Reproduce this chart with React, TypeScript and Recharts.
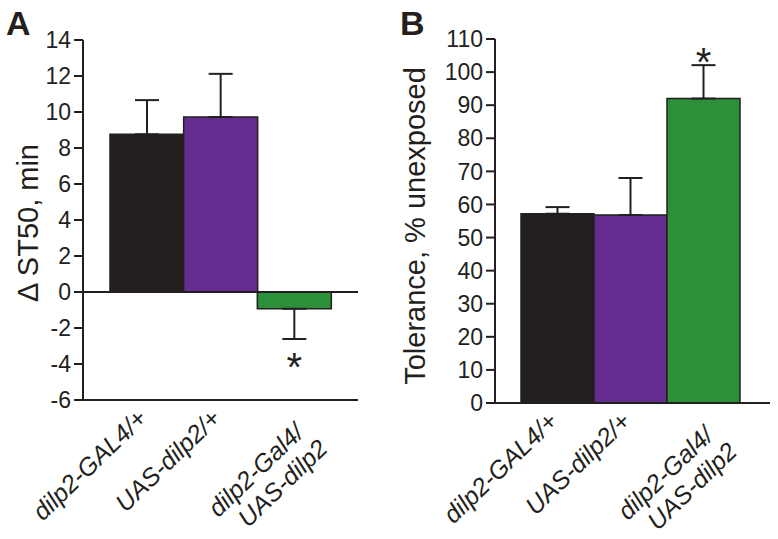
import React from 'react';
import { BarChart, Bar, Cell, XAxis, YAxis, ErrorBar, ReferenceLine, ReferenceDot } from 'recharts';

const genotypes = ['dilp2-GAL4/+', 'UAS-dilp2/+', 'dilp2-Gal4/UAS-dilp2'];
const genotypeLines = [['dilp2-GAL4/+'], ['UAS-dilp2/+'], ['dilp2-Gal4/', 'UAS-dilp2']];
const barColors = ['#231f20', '#662d91', '#2b9039'];

// panel A: change in ST50 (min)
const st50 = [8.76, 9.72, -0.93];
const st50ErrUp = [1.9, 2.4, 0];
const st50ErrDown = [0, 0, 1.68];
const st50Ticks = [-6, -4, -2, 0, 2, 4, 6, 8, 10, 12, 14];

// panel B: tolerance, % unexposed
const tolerance = [57.2, 56.8, 92.0];
const toleranceErrUp = [2.0, 11.2, 10.1];
const toleranceErrDown = [0, 0, 0];
const toleranceTicks = [0, 10, 20, 30, 40, 50, 60, 70, 80, 90, 100, 110];

const FONT = '"Liberation Sans", Arial, Helvetica, sans-serif';
const INK = '#231f20';

const dataA = genotypes.map((g, i) => ({ name: g, value: st50[i], err: [st50ErrDown[i], st50ErrUp[i]] }));
const dataB = genotypes.map((g, i) => ({ name: g, value: tolerance[i], err: [toleranceErrDown[i], toleranceErrUp[i]] }));

const GenotypeTick = ({ x, y, payload }: any) => {
    const idx = genotypes.indexOf(payload.value);
    const lines = genotypeLines[idx] || [payload.value];
    const two = lines.length > 1;
    return (
        <g transform={`translate(${x + 1.5},${y + 20})`}>
            <text transform="rotate(-44)" textAnchor="end" fontStyle="italic" fontSize={25} fill={INK} fontFamily={FONT}>
                {lines.map((l, i) => (
                    <tspan key={i} x={two ? (i === 0 ? -3 : 3) : 0} y={two ? (i === 0 ? 17 : 45) : 0}>{l}</tspan>
                ))}
            </text>
        </g>
    );
};

const AxisTitle = ({ tx, ty, text }: any) => (
    <text x={tx} y={ty} transform={`rotate(-90, ${tx}, ${ty})`} textAnchor="middle" dominantBaseline="central" fontSize={29} fill={INK} fontFamily={FONT}>
        {text}
    </text>
);

const Star = ({ viewBox, dy }: any) => (
    <text x={viewBox.x + viewBox.width / 2} y={viewBox.y + viewBox.height / 2 + dy} textAnchor="middle" fontSize={40} fill={INK} fontFamily={FONT}>
        *
    </text>
);

const tickStyle = { fontSize: 23, fill: INK, fontFamily: FONT };
const frameLine = { stroke: INK, strokeWidth: 2 };
const panelLetter = { position: 'absolute' as const, top: 4, fontFamily: FONT, fontWeight: 'bold' as const, fontSize: 34, color: INK };

const App = () => {
    return (
        <div style={{ position: 'absolute', left: 0, top: 0, width: 778, height: 539, background: '#fff' }}>
            <div style={{ ...panelLetter, left: 6 }}>A</div>
            <div style={{ ...panelLetter, left: 400 }}>B</div>

            <div style={{ position: 'absolute', left: 0, top: 0 }}>
                <BarChart width={390} height={539} data={dataA} margin={{ top: 40, right: 32, bottom: 79, left: 23 }} barCategoryGap={0}>
                    <XAxis dataKey="name" height={60} padding={{ left: 27, right: 27 }} tickLine={false} tickSize={0} tickMargin={0}
                        axisLine={frameLine} tick={<GenotypeTick />} interval={0} />
                    <XAxis xAxisId="top" orientation="top" dataKey="name" height={0} padding={{ left: 27, right: 27 }}
                        tick={false} tickLine={false} axisLine={frameLine} />
                    <YAxis domain={[-6, 14]} ticks={st50Ticks} width={60} tickSize={9} tickMargin={3} interval={0}
                        axisLine={frameLine} tickLine={frameLine} tick={tickStyle}
                        label={<AxisTitle tx={28} ty={223} text="Δ ST50, min" />} />
                    <YAxis yAxisId="right" orientation="right" domain={[-6, 14]} width={0} tick={false} tickLine={false} axisLine={frameLine} />
                    <Bar dataKey="value" stroke={INK} strokeWidth={1.5} isAnimationActive={false}>
                        {dataA.map((d, i) => <Cell key={d.name} fill={barColors[i]} />)}
                        <ErrorBar dataKey="err" width={12} stroke={INK} strokeWidth={2} direction="y" />
                    </Bar>
                    <ReferenceLine y={0} stroke={INK} strokeWidth={2} />
                    <ReferenceDot x={genotypes[2]} y={st50[2] - st50ErrDown[2]} r={1} fill="none" stroke="none"
                        label={<Star dy={42} />} />
                </BarChart>
            </div>

            <div style={{ position: 'absolute', left: 390, top: 0 }}>
                <BarChart width={388} height={539} data={dataB} margin={{ top: 39, right: 8, bottom: 76, left: 45 }} barCategoryGap={0}>
                    <XAxis dataKey="name" height={60} padding={{ left: 26, right: 30 }} tickLine={false} tickSize={0} tickMargin={0}
                        axisLine={frameLine} tick={<GenotypeTick />} interval={0} />
                    <XAxis xAxisId="top" orientation="top" dataKey="name" height={0} padding={{ left: 26, right: 30 }}
                        tick={false} tickLine={false} axisLine={frameLine} />
                    <YAxis domain={[0, 110]} ticks={toleranceTicks} width={60} tickSize={9} tickMargin={3} interval={0}
                        axisLine={frameLine} tickLine={frameLine} tick={tickStyle}
                        label={<AxisTitle tx={25} ty={226} text="Tolerance, % unexposed" />} />
                    <YAxis yAxisId="right" orientation="right" domain={[0, 110]} width={0} tick={false} tickLine={false} axisLine={frameLine} />
                    <Bar dataKey="value" stroke={INK} strokeWidth={1.5} isAnimationActive={false}>
                        {dataB.map((d, i) => <Cell key={d.name} fill={barColors[i]} />)}
                        <ErrorBar dataKey="err" width={12} stroke={INK} strokeWidth={2} direction="y" />
                    </Bar>
                    <ReferenceDot x={genotypes[2]} y={tolerance[2] + toleranceErrUp[2]} r={1} fill="none" stroke="none"
                        label={<Star dy={11} />} />
                </BarChart>
            </div>
        </div>
    );
};

export default App;
